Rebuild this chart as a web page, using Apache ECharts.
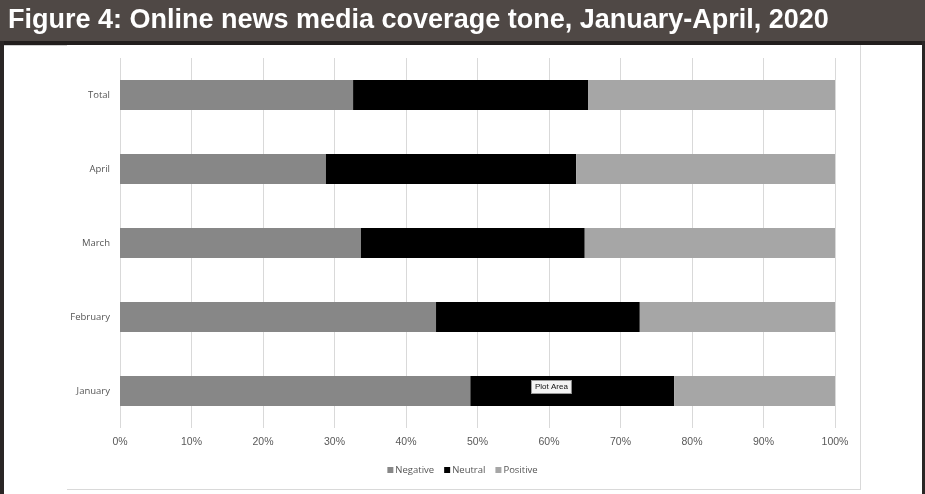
<!DOCTYPE html>
<html>
<head>
<meta charset="utf-8">
<title>Online news media coverage tone</title>
<script src="https://cdn.jsdelivr.net/npm/echarts@6/dist/echarts.min.js"></script>
<style>
  html, body { margin: 0; padding: 0; background: #ffffff; }
  #chart { width: 925px; height: 494px; }
</style>
</head>
<body>
<div id="chart"></div>
<script>
// Months plus the overall total, bottom to top
const categories = ['January', 'February', 'March', 'April', 'Total'];
// Share of coverage by tone, in percent
const negative = [49.0, 44.2, 33.7, 28.8, 32.6];
const neutral  = [28.5, 28.5, 31.3, 35.0, 32.9];
const positive = [22.5, 27.3, 35.0, 36.2, 34.5];
const seriesNames = ['Negative', 'Neutral', 'Positive'];
const xTicks = [0, 10, 20, 30, 40, 50, 60, 70, 80, 90, 100];

const chart = echarts.init(document.getElementById('chart'), null, { renderer: 'canvas' });

const colors = ['#878787', '#000000', '#a6a6a6'];
const values = [negative, neutral, positive];

const option = {
  animation: false,
  backgroundColor: '#ffffff',
  grid: { left: 120, right: 90, top: 58, bottom: 66, containLabel: false },
  xAxis: {
    type: 'value',
    min: xTicks[0],
    max: xTicks[xTicks.length - 1],
    interval: 10,
    axisLine: { show: false },
    axisTick: { show: false },
    splitLine: { show: true, lineStyle: { color: '#d9d9d9', width: 1 } },
    axisLabel: {
      formatter: v => v + '%',
      color: '#595959',
      fontFamily: 'Liberation Sans, Arial, sans-serif',
      fontSize: 10.5,
      margin: 9
    }
  },
  yAxis: {
    type: 'category',
    data: categories,
    axisLine: { show: false },
    axisTick: { show: false },
    splitLine: { show: false },
    axisLabel: {
      color: '#555555',
      fontFamily: 'Open Sans, Noto Sans, sans-serif',
      fontSize: 9.5,
      margin: 10
    }
  },
  legend: {
    data: seriesNames,
    bottom: 14,
    left: 'center',
    itemWidth: 6,
    itemHeight: 6,
    itemGap: 10,
    icon: 'rect',
    textStyle: {
      color: '#555555',
      fontFamily: 'Open Sans, Noto Sans, sans-serif',
      fontSize: 9.5,
      padding: [0, 0, 0, -3]
    }
  },
  series: seriesNames.map((name, i) => ({
    name: name,
    type: 'bar',
    stack: 'tone',
    barWidth: 30,
    data: values[i],
    itemStyle: { color: colors[i] },
    emphasis: { disabled: true }
  })),
  graphic: [
    // header band
    { type: 'rect', left: 0, top: 0, shape: { width: 925, height: 41 }, style: { fill: '#4f4845' }, z: 100 },
    { type: 'rect', left: 0, top: 41, shape: { width: 925, height: 4 }, style: { fill: '#221e1d' }, z: 100 },
    {
      type: 'text', left: 8, top: 7, z: 101,
      style: {
        text: 'Figure 4: Online news media coverage tone, January-April, 2020',
        fill: '#ffffff',
        font: 'bold 27px "Liberation Sans", Arial, sans-serif'
      }
    },
    // page side borders
    { type: 'rect', left: 0, top: 41, shape: { width: 4, height: 453 }, style: { fill: '#2a2625' }, z: 100 },
    { type: 'rect', left: 922, top: 41, shape: { width: 3, height: 453 }, style: { fill: '#2a2625' }, z: 100 },
    // chart frame edges
    { type: 'line', shape: { x1: 4, y1: 45.5, x2: 67, y2: 45.5 }, style: { stroke: '#d0d0d0', lineWidth: 1 }, z: 99 },
    { type: 'line', shape: { x1: 860.5, y1: 45, x2: 860.5, y2: 489 }, style: { stroke: '#d9d9d9', lineWidth: 1 }, z: 99 },
    { type: 'line', shape: { x1: 67, y1: 489.5, x2: 861, y2: 489.5 }, style: { stroke: '#d9d9d9', lineWidth: 1 }, z: 99 },
    // hover caption
    {
      type: 'text', left: 531, top: 380, z: 101,
      style: {
        text: 'Plot Area',
        fill: '#111111',
        font: '8px "Liberation Sans", Arial, sans-serif',
        backgroundColor: '#f4f4f4',
        borderColor: '#9a9a9a',
        borderWidth: 1,
        padding: [2, 3, 2, 3]
      }
    }
  ]
};

chart.setOption(option);
</script>
</body>
</html>
